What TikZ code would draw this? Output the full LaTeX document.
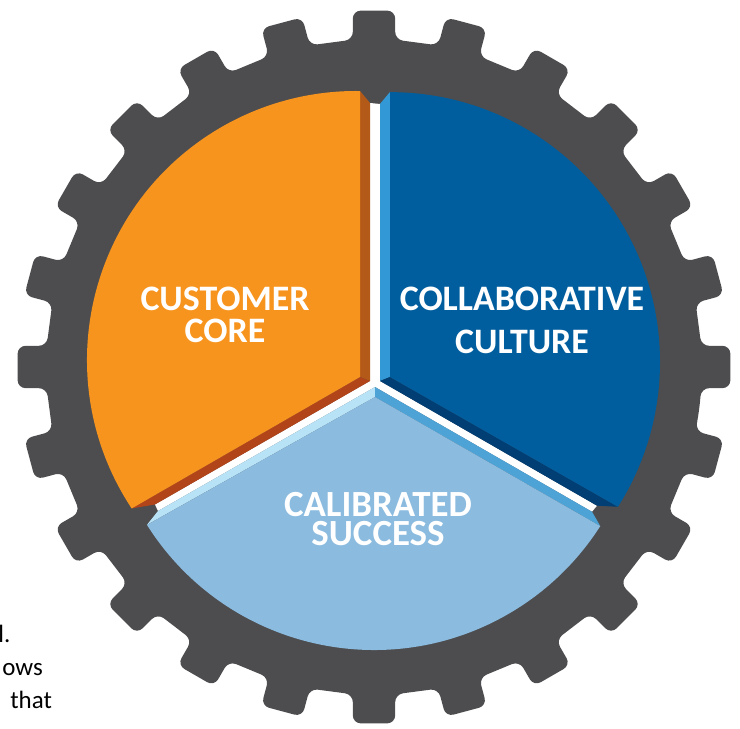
\documentclass[tikz,border=0pt]{standalone}
\usepackage{fontspec}
\setmainfont{Carlito}
\usetikzlibrary{calc}
\definecolor{gr}{RGB}{77,77,79}
\definecolor{oface}{RGB}{247,148,30}
\definecolor{oside}{RGB}{180,90,24}
\definecolor{obot}{RGB}{178,68,26}
\definecolor{bface}{RGB}{0,94,158}
\definecolor{bside}{RGB}{51,153,214}
\definecolor{bbot}{RGB}{0,62,116}
\definecolor{lface}{RGB}{139,187,223}
\definecolor{lleft}{RGB}{184,227,247}
\definecolor{lright}{RGB}{77,163,214}
\tikzset{lbl/.style={text=white,align=center,inner sep=0pt,font=\bfseries\fontsize{20.4}{18.1}\selectfont},
frag/.style={anchor=base west,inner sep=0pt,font=\fontsize{14.2}{17}\selectfont}}

\begin{document}
\begin{tikzpicture}[x=0.02cm,y=0.02cm]
\useasboundingbox (-374,-362) rectangle (366,367);
% roue dentee
\fill[gr,rounded corners=4.5pt](-7.5:328)
 \foreach \a in {0,15,...,345} {--({\a-3.7}:328)--({\a-3.4}:357)--({\a+3.4}:357)--({\a+3.7}:328)} --cycle;
% fentes blanches
\fill[white](-4,264)--(6,263)--(6,-14)--(223,-138.7)--(218,-144.7)--(1,-20)--(-216,-144)--(-219,-137.5)--(-4,-14)--cycle;
% secteur orange
\fill[oside](-14,276)--(-4,264)--(-4,-14)--(-14,-10)--cycle;
\fill[obot](-14,-10)--(-4,-14)--(-219,-137.5)--(-242.3,-141.4)--cycle;
\fill[oface](-14,-10)--($(-18,7)+(213.5:269)$) arc[start angle=213.5,end angle=89.1,radius=269]--cycle;
% secteur bleu
\fill[bside](16,275)--(6,263)--(6,-14)--(16,-10)--cycle;
\fill[bbot](16,-10)--(6,-14)--(223,-138.7)--(244,-139.8)--cycle;
\fill[bface](16,-10)--(16,274.85) arc[start angle=90,end angle=-32.4,radius=270]--cycle;
% secteur bleu clair
\fill[lleft](1,-30)--(1,-20)--(-216,-144)--(-227.1,-157.9)--cycle;
\fill[lright](1,-30)--(1,-20)--(218,-144.7)--(226.3,-159.1)--cycle;
\fill[lface](1,-30)--($(0,-14.4)+(212.3:268.6)$) arc[start angle=212.3,end angle=327.4,radius=268.6]--cycle;
\node[lbl] (cust) at (-149,52) {CUSTOMER\\CORE};
\node[lbl,font=\bfseries\fontsize{20.4}{24.4}\selectfont] (collab) at (148,47) {COLLABORATIVE\\CULTURE};
\node[lbl,font=\bfseries\fontsize{21}{16.5}\selectfont] (calib) at (4,-152) {CALIBRATED\\SUCCESS};
\node[frag] (t1) at (-376,-276) {l.};
\node[frag] (t2) at (-372,-309) {ows};
\node[frag] (t3) at (-364,-341) {that};
\end{tikzpicture}
\end{document}
